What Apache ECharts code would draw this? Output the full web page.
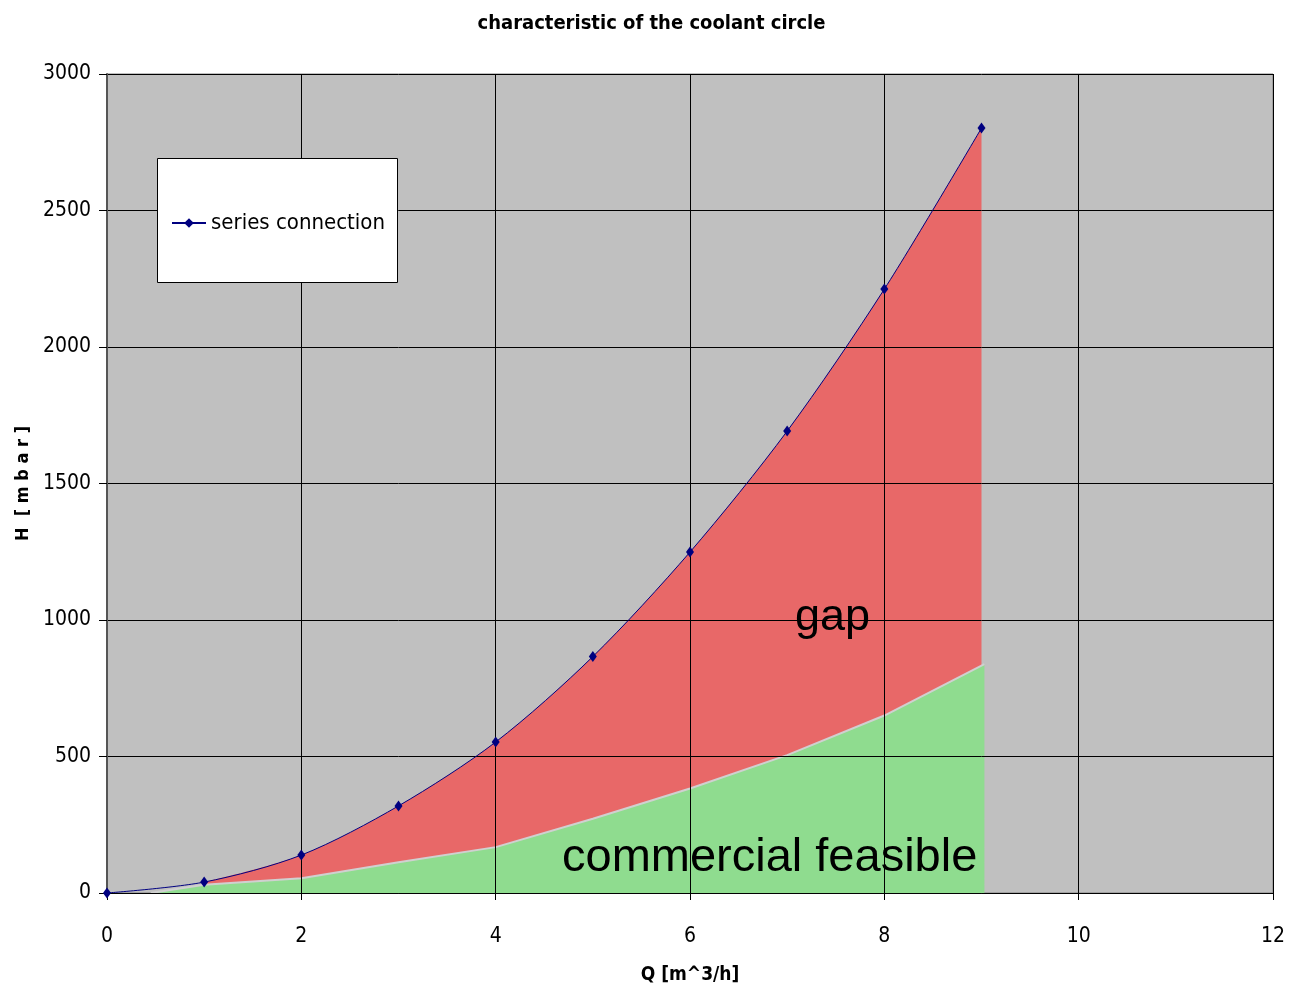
<!DOCTYPE html>
<html>
<head>
<meta charset="utf-8">
<script src="https://cdn.jsdelivr.net/npm/echarts@6/dist/echarts.min.js"></script>
<style>
html,body{margin:0;padding:0;background:#fff;}
#chart{width:1303px;height:993px;}
</style>
</head>
<body>
<div id="chart"></div>
<script>
// ---- data ----
const seriesConnection = [[0,0],[1,40],[2,139],[3,319],[4,553],[5,866],[6,1249],[7,1692],[8,2212],[9,2802]];
const gapTop = [[1,40],[2,139],[3,319],[4,553],[5,866],[6,1249],[7,1692],[8,2212],[9,2802]];
const feasibleTop = [[0.45,0],[1,30],[2,54],[3,113],[4,168],[5,272],[6,383],[7,505],[8,650],[9.03,838]];
const xMin = 0, xMax = 12, xStep = 2;
const yMin = 0, yMax = 3000, yStep = 500;
const titleText = 'characteristic of the coolant circle';
const xName = 'Q [m^3/h]';
const yName = 'H  [ m b a r ]';
const legendName = 'series connection';

const narrow = "'DejaVu Sans Condensed','Liberation Sans Narrow','Arial Narrow',sans-serif";

const chart = echarts.init(document.getElementById('chart'));
chart.setOption({
  animation: false,
  backgroundColor: '#ffffff',
  title: {
    text: titleText,
    left: 'center',
    top: 9,
    textStyle: {fontFamily: narrow, fontSize: 20, fontWeight: 'bold', color: '#000'}
  },
  grid: {
    left: 107, right: 30, top: 74, bottom: 100,
    outerBoundsMode: 'none', containLabel: false,
    show: true, backgroundColor: '#c0c0c0', borderColor: '#808080', borderWidth: 1
  },
  legend: {
    left: 166, top: 207,
    data: [legendName],
    itemWidth: 34, itemHeight: 12, itemGap: 6,
    textStyle: {fontFamily: narrow, fontSize: 22, color: '#000'},
    z: 10
  },
  graphic: [
    {type: 'rect', left: 157, top: 158, z: 5, shape: {width: 240, height: 124},
     style: {fill: '#fff', stroke: '#000', lineWidth: 1}},
    {type: 'text', left: 795, top: 595, z: 10,
     style: {text: 'gap', font: "45px 'Liberation Sans', Arial, sans-serif", fill: '#000'}},
    {type: 'text', left: 562, top: 835, z: 10,
     style: {text: 'commercial feasible', font: "47px 'Liberation Sans', Arial, sans-serif", fill: '#000'}}
  ],
  xAxis: {
    type: 'value', min: xMin, max: xMax, interval: xStep, z: 3,
    name: xName, nameLocation: 'middle', nameGap: 73,
    nameTextStyle: {fontFamily: narrow, fontSize: 19, fontWeight: 'bold', color: '#000'},
    axisLine: {show: true, lineStyle: {color: '#000', width: 1}},
    axisTick: {show: true, length: 7, lineStyle: {color: '#000'}},
    axisLabel: {margin: 33, fontFamily: narrow, fontSize: 21, color: '#000', formatter: v => String(v)},
    splitLine: {show: true, lineStyle: {color: '#000', width: 1}}
  },
  yAxis: {
    type: 'value', min: yMin, max: yMax, interval: yStep, z: 3,
    name: yName, nameLocation: 'middle', nameGap: 72, nameRotate: 90,
    nameTextStyle: {fontFamily: narrow, fontSize: 18, fontWeight: 'bold', color: '#000'},
    axisLine: {show: true, lineStyle: {color: '#555', width: 2}},
    axisTick: {show: true, length: 8, lineStyle: {color: '#000'}},
    axisLabel: {margin: 16, fontFamily: narrow, fontSize: 21, color: '#000', formatter: v => String(v)},
    splitLine: {show: true, lineStyle: {color: '#000', width: 1}}
  },
  series: [
    {
      name: 'gap', type: 'line', data: gapTop, smooth: 0.3, z: 1,
      symbol: 'none', lineStyle: {width: 0},
      areaStyle: {color: '#e86868', opacity: 1},
      silent: true
    },
    {
      name: 'commercial feasible', type: 'line', data: feasibleTop, z: 2,
      symbol: 'none', lineStyle: {color: '#d0d0d0', width: 2},
      areaStyle: {color: '#8fdc8f', opacity: 1},
      silent: true
    },
    {
      name: legendName, type: 'line', data: seriesConnection, smooth: 0.3, z: 5,
      symbol: 'diamond', symbolSize: [8, 11],
      lineStyle: {color: '#000080', width: 1},
      itemStyle: {color: '#000080'}
    }
  ]
});
</script>
</body>
</html>
